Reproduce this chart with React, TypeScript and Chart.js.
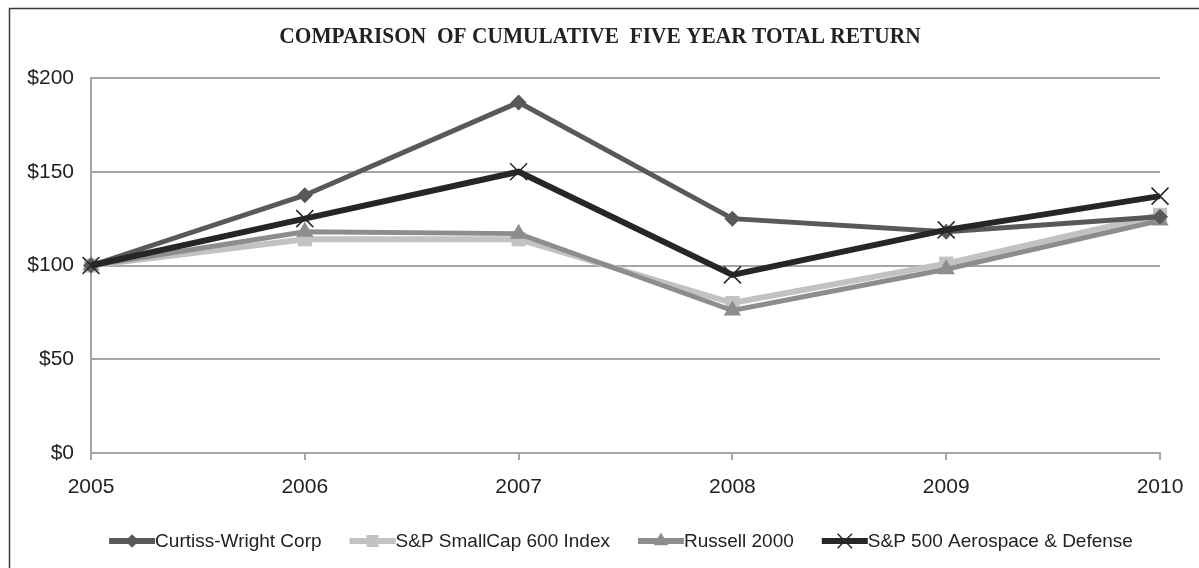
import { useEffect, useRef } from "react";
import { Chart, registerables } from "chart.js";

Chart.register(...registerables);

// ---- data ----
const years = ["2005", "2006", "2007", "2008", "2009", "2010"];
const seriesNames = [
  "Curtiss-Wright Corp",
  "S&P SmallCap 600 Index",
  "Russell 2000",
  "S&P 500 Aerospace & Defense",
];
const curtissWright = [100, 137.5, 187, 125, 118, 126];
const spSmallCap600 = [100, 114, 114, 80, 101, 127];
const russell2000 = [100, 118, 117, 76, 98, 124];
const spAerospaceDefense = [100, 125, 150, 95, 119, 137];
const yTickValues = [0, 50, 100, 150, 200];
const titleText = "COMPARISON  OF CUMULATIVE  FIVE YEAR TOTAL RETURN";

// ---- styles ----
const seriesColors = ["#595959", "#c2c2c2", "#8d8d8d", "#262626"];
const seriesWidths = [5, 6, 5, 6];
const seriesMarkers = ["rectRot", "rect", "triangle", "crossRot"];
const seriesRadii = [8, 10, 10, 12];
const gridColor = "#a6a6a6";
const sans = '"Liberation Sans", Arial, sans-serif';
const serif = '"Liberation Serif", "Times New Roman", serif';

function drawMarker(
  ctx: CanvasRenderingContext2D,
  type: string,
  x: number,
  y: number,
  r: number,
  color: string
) {
  ctx.save();
  ctx.fillStyle = color;
  ctx.strokeStyle = color;
  ctx.beginPath();
  if (type === "rectRot") {
    ctx.moveTo(x, y - r);
    ctx.lineTo(x + r, y);
    ctx.lineTo(x, y + r);
    ctx.lineTo(x - r, y);
    ctx.closePath();
    ctx.fill();
  } else if (type === "rect") {
    const s = r * Math.SQRT1_2;
    ctx.rect(x - s, y - s, 2 * s, 2 * s);
    ctx.fill();
  } else if (type === "triangle") {
    const h = r;
    ctx.moveTo(x, y - h);
    ctx.lineTo(x + h * 0.866, y + h * 0.5);
    ctx.lineTo(x - h * 0.866, y + h * 0.5);
    ctx.closePath();
    ctx.fill();
  } else if (type === "crossRot") {
    const d = r * Math.SQRT1_2;
    ctx.lineWidth = 1.5;
    ctx.moveTo(x - d, y - d);
    ctx.lineTo(x + d, y + d);
    ctx.moveTo(x + d, y - d);
    ctx.lineTo(x - d, y + d);
    ctx.stroke();
  }
  ctx.restore();
}

const decorPlugin = {
  id: "decor",
  afterDraw(chart: any) {
    const ctx: CanvasRenderingContext2D = chart.ctx;
    // outer frame (top + left)
    ctx.save();
    ctx.strokeStyle = "#3a3a3a";
    ctx.lineWidth = 1.5;
    ctx.beginPath();
    ctx.moveTo(1199, 8.5);
    ctx.lineTo(9.5, 8.5);
    ctx.lineTo(9.5, 568);
    ctx.stroke();
    ctx.restore();

    // title (slightly condensed serif)
    ctx.save();
    ctx.font = `bold 23px ${serif}`;
    ctx.fillStyle = "#222";
    ctx.textAlign = "center";
    ctx.textBaseline = "middle";
    ctx.translate(600, 37);
    ctx.scale(0.93, 1);
    ctx.fillText(titleText, 0, 0);
    ctx.restore();

    // legend
    ctx.save();
    ctx.font = `19px ${sans}`;
    ctx.textBaseline = "middle";
    ctx.textAlign = "left";
    const markerW = 46;
    const gap = 28;
    const widths = seriesNames.map((n) => markerW + ctx.measureText(n).width);
    const total = widths.reduce((a, b) => a + b, 0) + gap * (seriesNames.length - 1);
    let x = 621 - total / 2;
    const y = 541;
    seriesNames.forEach((name, i) => {
      ctx.strokeStyle = seriesColors[i];
      ctx.lineWidth = 6;
      ctx.beginPath();
      ctx.moveTo(x, y);
      ctx.lineTo(x + markerW, y);
      ctx.stroke();
      drawMarker(ctx, seriesMarkers[i], x + markerW / 2, y, seriesRadii[i] * 0.85, seriesColors[i]);
      ctx.fillStyle = "#222";
      ctx.fillText(name, x + markerW, y + 1);
      x += widths[i] + gap;
    });
    ctx.restore();
  },
};

export default function App() {
  const ref = useRef<HTMLCanvasElement>(null);
  useEffect(() => {
    document.body.style.margin = "0";
    const values = [curtissWright, spSmallCap600, russell2000, spAerospaceDefense];
    const orders = [1, 3, 2, 0];
    const chart = new Chart(ref.current!, {
      type: "line",
      data: {
        labels: years,
        datasets: values.map((v, i) => ({
          label: seriesNames[i],
          data: v,
          borderColor: seriesColors[i],
          backgroundColor: seriesColors[i],
          borderWidth: seriesWidths[i],
          pointStyle: seriesMarkers[i] as any,
          pointRadius: seriesRadii[i],
          pointBackgroundColor: seriesColors[i],
          pointBorderColor: seriesColors[i],
          pointBorderWidth: seriesMarkers[i] === "crossRot" ? 1.5 : 0,
          tension: 0,
          order: orders[i],
        })),
      },
      options: {
        animation: false,
        responsive: false,
        devicePixelRatio: 1,
        layout: { padding: { left: 0, right: 39, top: 78, bottom: 55 } },
        plugins: {
          legend: { display: false },
          title: { display: false },
          tooltip: { enabled: false },
        },
        scales: {
          x: {
            offset: false,
            grid: {
              drawOnChartArea: false,
              drawTicks: true,
              tickLength: 7,
              color: gridColor,
              lineWidth: 2,
            },
            border: { display: true, color: gridColor, width: 2 },
            ticks: {
              font: { family: sans, size: 21 },
              color: "#222",
              padding: 15,
              maxRotation: 0,
            },
            afterFit: (s: any) => {
              s.height = 60;
            },
          },
          y: {
            min: 0,
            max: 200,
            afterBuildTicks: (s: any) => {
              s.ticks = yTickValues.map((v) => ({ value: v }));
            },
            grid: {
              drawTicks: false,
              color: gridColor,
              lineWidth: 2,
            },
            border: { display: true, color: gridColor, width: 2 },
            ticks: {
              font: { family: sans, size: 21 },
              color: "#222",
              padding: 17,
              callback: (v: any) => "$" + v,
            },
            afterFit: (s: any) => {
              s.width = 91;
            },
          },
        },
      },
      plugins: [decorPlugin],
    });
    return () => chart.destroy();
  }, []);
  return (
    <div style={{ width: 1199, height: 568 }}>
      <canvas ref={ref} width={1199} height={568} style={{ display: "block" }} />
    </div>
  );
}
